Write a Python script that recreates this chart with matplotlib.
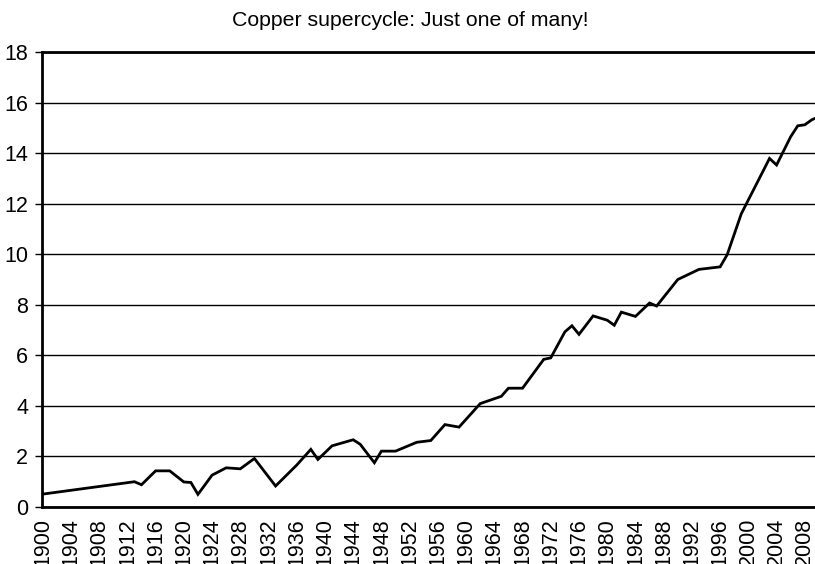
import numpy as np
import matplotlib
matplotlib.use("Agg")
import matplotlib.pyplot as plt

plt.rcParams['font.family'] = ['Liberation Sans', 'DejaVu Sans']

# copper index (only the corner points of the line)
years = [1900, 1913, 1914, 1916, 1918, 1920, 1921, 1922, 1924, 1926, 1928, 1930,
         1933, 1936, 1938, 1939, 1941, 1944, 1945, 1947, 1948, 1950, 1953, 1955,
         1957, 1959, 1962, 1965, 1966, 1968, 1971, 1972, 1974, 1975, 1976, 1978,
         1980, 1981, 1982, 1984, 1986, 1987, 1990, 1993, 1996, 1997, 1999, 2003,
         2004, 2006, 2007, 2008, 2009, 2010, 2011]
values = [0.51, 1.0, 0.88, 1.43, 1.43, 0.99, 0.97, 0.5, 1.26, 1.55, 1.51, 1.92,
          0.83, 1.66, 2.28, 1.88, 2.42, 2.66, 2.48, 1.75, 2.21, 2.21, 2.56, 2.63,
          3.26, 3.16, 4.09, 4.38, 4.70, 4.70, 5.84, 5.90, 6.93, 7.17, 6.83, 7.56,
          7.39, 7.19, 7.71, 7.54, 8.07, 7.95, 9.0, 9.40, 9.50, 9.98, 11.6, 13.79,
          13.53, 14.65, 15.08, 15.12, 15.32, 15.44, 15.92]

xticks = list(range(1900, 2009, 4))
yticks = list(range(0, 19, 2))
title = "Copper supercycle: Just one of many!"

fig = plt.figure(figsize=(8.15, 5.64), dpi=100)
ax = fig.add_axes([42/815, 1 - 507/564, 1 - 42/815 + 0.01, (507 - 52)/564])

ax.plot(years, values, color='black', lw=2.0, solid_joinstyle='miter')

ax.set_xlim(1899.9, 2010.6)
ax.set_ylim(0, 18)
ax.set_yticks(yticks)
ax.set_xticks(xticks)
ax.set_xticklabels([str(y) for y in xticks], rotation=90, va='top')
ax.tick_params(axis='x', length=0, pad=8, labelsize=15.5)
ax.tick_params(axis='y', length=5, width=1, pad=5, labelsize=15.5, direction='out')

ax.grid(axis='y', color='black', lw=1)
ax.set_axisbelow(True)
for s in ['left', 'bottom', 'top']:
    ax.spines[s].set_linewidth(2)
ax.spines['right'].set_visible(False)

fig.text(410/815, 1 - 21/564, title, ha='center', va='center', fontsize=15.3)

fig.savefig('out.png', dpi=100)
